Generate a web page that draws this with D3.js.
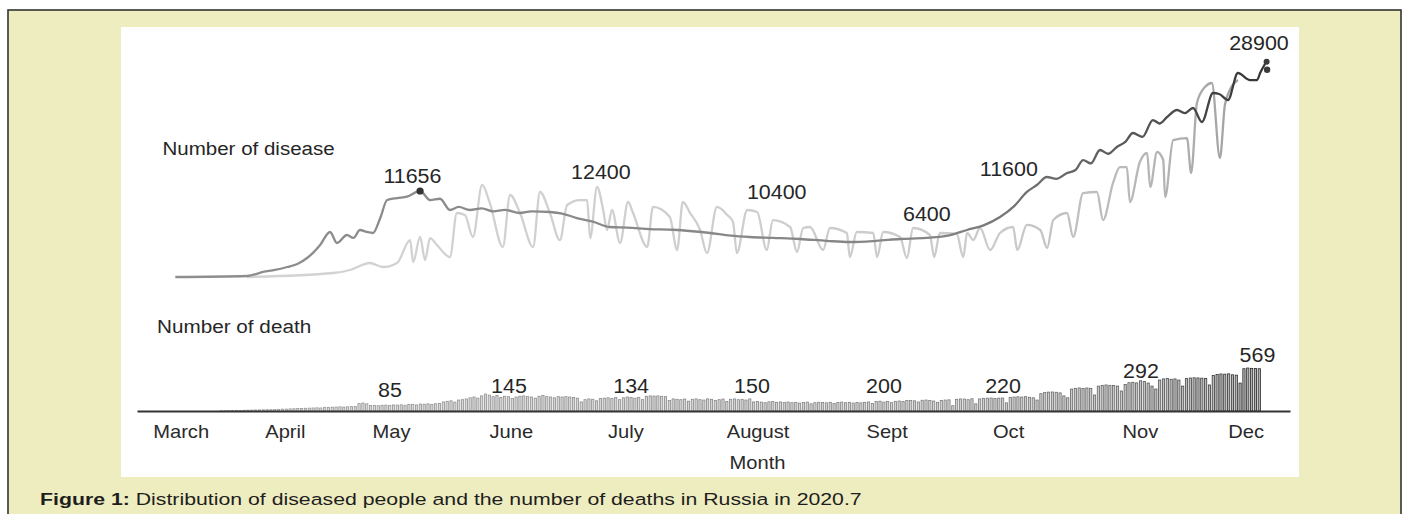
<!DOCTYPE html>
<html>
<head>
<meta charset="utf-8">
<script src="https://cdn.jsdelivr.net/npm/d3@7"></script>
<style>
  html, body { margin: 0; padding: 0; background: #ffffff; }
  svg { display: block; font-family: "Liberation Sans", Arial, Helvetica, sans-serif; }
</style>
</head>
<body>
<div id="chart"></div>
<script>
// ---------------- DATA ----------------
// day index 0 = 1 March 2020
const monthLabels = ["March", "April", "May", "June", "July", "August", "Sept", "Oct", "Nov", "Dec"];
const monthTickDays = [1.4, 28.6, 56.3, 87.6, 117.5, 152, 185.7, 217.4, 251.8, 279.4];

// dark line: "Number of disease"
const caseDays = [0, 18.8, 22.9, 26, 29.2, 32, 34.4, 36, 37.8, 40.4, 42.2, 44.8, 46.5, 48.2, 50, 51.6, 53.5, 55.3, 57.9, 60.5, 63.9, 66.5, 69.1, 71.7, 74, 76.9, 80, 83, 86, 89.9, 93, 97.8, 101, 104.8, 109, 113.4, 118, 123.9, 130, 135, 139.6, 145, 150, 156, 163.1, 170, 176.1, 183, 189.2, 196, 202.3, 206.7, 211, 215.3, 219, 222.3, 225, 227.5, 230, 232.8, 235, 237, 239, 241.4, 243.5, 245.8, 248, 250, 252.5, 255.2, 257, 258.9, 261.5, 263.5, 265.7, 268, 270.9, 272.5, 274.8, 277.4, 280.6, 282.4, 283.2, 284.5];
const caseValues = [0, 135, 680, 950, 1355, 1800, 2575, 3300, 4340, 6100, 4610, 5690, 5300, 6370, 6100, 5960, 8000, 10430, 10700, 10900, 11656, 10430, 10600, 9080, 9500, 9080, 9300, 8900, 9100, 8670, 8900, 8810, 8600, 7990, 7500, 6775, 6700, 6500, 6400, 6200, 5960, 5600, 5420, 5300, 5150, 4900, 4740, 4900, 5150, 5300, 5690, 6370, 7000, 8130, 9600, 11520, 12500, 13550, 13300, 14090, 14500, 15850, 15400, 17210, 16700, 17620, 18300, 19510, 19000, 21270, 20800, 21680, 22630, 22200, 22900, 21000, 24930, 24800, 23980, 27640, 26690, 26690, 27640, 28900];

// light line (weekly oscillating series)
const lightDays = [18.7, 41.2, 45.6, 50.8, 54.2, 57.9, 61.3, 62.1, 63.9, 65.2, 66.5, 68.3, 71.7, 73.5, 75.6, 77.7, 80.1, 82.1, 85.5, 87.4, 90, 93.4, 95.2, 97.8, 100.4, 102.3, 105.6, 107.5, 108.3, 110.1, 111.7, 112.7, 114, 116.1, 118.2, 119.5, 123.2, 124.7, 129.1, 131, 132.5, 134.4, 137, 138.8, 141.4, 144.1, 145.6, 146.6, 149.3, 151.9, 154.4, 156, 160.5, 162.3, 163.9, 165.7, 169.1, 170.9, 175.3, 176.1, 177.9, 182.2, 183.2, 184.8, 189.2, 191, 192.6, 197, 198.1, 199.6, 204, 205.7, 206.7, 208.3, 210.1, 212.7, 215.3, 218.7, 219.8, 222.3, 225.8, 227.6, 229.2, 232.8, 234.4, 237, 240.6, 242.2, 244.8, 246.6, 248.4, 249.2, 251.8, 253.7, 254.5, 256.3, 257.9, 258.4, 260.5, 264.1, 265.2, 266.7, 268.8, 270.6, 272.7, 274, 275.3, 277.4];
const lightValues = [0, 540, 950, 1900, 1355, 1900, 5010, 2030, 5420, 2300, 5280, 4340, 2710, 8670, 8400, 5420, 12470, 10030, 4070, 11110, 8670, 4070, 11520, 8670, 5010, 9760, 10430, 10430, 5285, 12195, 9080, 6370, 9080, 4610, 10160, 8670, 4070, 9490, 8130, 3660, 10160, 8670, 6370, 3250, 9490, 8400, 7450, 3250, 9080, 8810, 3660, 7720, 6775, 3390, 6640, 6775, 3660, 6640, 5960, 2710, 6100, 5960, 2710, 6100, 5420, 2575, 6640, 5690, 2710, 5960, 5830, 2710, 5960, 5010, 6640, 3660, 5960, 6775, 3660, 7050, 6370, 3930, 7720, 8670, 5420, 11380, 11520, 7720, 12740, 14900, 14900, 10160, 15580, 16800, 12200, 16940, 15850, 10840, 18560, 18830, 14090, 23580, 25750, 26290, 16120, 23300, 25340, 26690];

// daily deaths, first bar = day 12
const deathStartDay = 12;
const deathValues = [
  3,4,5,6,8,8,10, 12,12,14,15,16,17,18, 20,22,25,25,28,30,32, 34,36,38,40,42,40,45, 48,50,52,55,52,55,58,
  60,98,106,95,
  72,75,70,76,78,74,80,78,82,76,
  85,88,80,92,90,95,88,96,100,
  120,128,135,118,145,150,160,
  175,185,170,200,225,210,190,205,
  180,195,190,165,185,195,200,190,185,170,195,205,190,185,175,190,
  185,190,185,180,170,
  120,150,160,155,135,165,
  170,175,165,180,150,175,185,180,170,178,
  150,195,200,198,200,195,190,
  140,160,155,150,158,130,155,160,150,
  145,160,155,140,150,158,125,155,160,150,155,145,160,
  120,125,118,110,122,125,115,120,112,118,
  110,115,105,112,118,95,110,115,112,108,115,100,112,118,110,115,105,112,108,
  115,120,100,125,130,118,125,110,128,132,
  125,138,140,135,120,142,145,140,132,115,140,145,148,
  70,
  155,160,158,150,162,
  95,
  160,168,170,172,165,170,
  172,108,
  180,185,188,185,190,182,175,
  145,
  230,245,250,252,248,240,
  200,175,
  290,300,305,298,305,300,
  212,
  330,340,345,340,338,330,
  265,
  350,375,380,372,400,390,370,
  330,291,
  410,425,430,420,425,410,
  330,
  430,437,440,438,435,430,
  345,
  470,485,490,488,492,480,475,
  370,
  560,569,565,562,560
];

// annotations (text, anchor day, anchor value)
const caseLabelTexts = ["11656", "12400", "10400", "6400", "11600", "28900"];
const caseLabelDays = [61.9, 111.1, 157, 196.2, 217.6, 282.9];
const caseLabelValues = [12700, 13280, 10530, 7590, 13690, 30760];
const peakDotDay = 63.9, peakDotValue = 11656;

const deathLabelTexts = ["85", "145", "134", "150", "200", "220", "292", "569"];
const deathLabelDays = [56.05, 87.1, 119, 150.55, 185, 216.1, 252.1, 282.5];
const deathLabelValues = [189, 234, 242, 242, 242, 234, 433, 653];

// ---------------- DRAWING ----------------
const W = 1403, H = 514;
const svg = d3.select("#chart").append("svg").attr("width", W).attr("height", H);

// outer framed beige panel
svg.append("rect").attr("x", 8).attr("y", 10).attr("width", 1393).attr("height", 540)
  .attr("fill", "#eeedc0").attr("stroke", "#333").attr("stroke-width", 1.6);
// white figure area
svg.append("rect").attr("x", 121).attr("y", 27).attr("width", 1178).attr("height", 450).attr("fill", "#ffffff");

const x = d3.scaleLinear().domain([-10, 291]).range([137, 1290]);
const yCase = d3.scaleLinear().domain([0, 30000]).range([277, 55.6]);
const yDeath = d3.scaleLinear().domain([0, 600]).range([411, 365.7]);

const defs = svg.append("defs");
function grad(id, stops) {
  const g = defs.append("linearGradient").attr("id", id).attr("gradientUnits", "userSpaceOnUse")
    .attr("x1", x(0)).attr("x2", x(286)).attr("y1", 0).attr("y2", 0);
  stops.forEach(s => g.append("stop").attr("offset", s[0]).attr("stop-color", s[1]));
}
grad("gDark", [[0, "#8e8e8e"], [0.7, "#858585"], [0.85, "#5e5e5e"], [1, "#333"]]);
grad("gLight", [[0, "#d4d4d4"], [0.75, "#cbcbcb"], [0.9, "#b4b4b4"], [1, "#999"]]);

function txt(g, s, tx, ty, size, anchor, sx, opts = {}) {
  return g.append("text")
    .attr("transform", `translate(${tx},${ty}) scale(${sx},1)`)
    .attr("text-anchor", anchor)
    .attr("fill", opts.fill || "#262626")
    .style("font-size", size + "px")
    .style("font-weight", opts.weight || "normal")
    .text(s);
}

const chart = svg.append("g");

const lightData = lightDays.map((d, i) => [d, lightValues[i]]);
const caseData = caseDays.map((d, i) => [d, caseValues[i]]);
const line = d3.line().x(d => x(d[0])).y(d => yCase(d[1])).curve(d3.curveMonotoneX);

chart.append("path").datum(lightData).attr("d", line)
  .attr("fill", "none").attr("stroke", "url(#gLight)").attr("stroke-width", 2.3).attr("stroke-linejoin", "round");
chart.append("path").datum(caseData).attr("d", line)
  .attr("fill", "none").attr("stroke", "url(#gDark)").attr("stroke-width", 2.3).attr("stroke-linejoin", "round");

// peak dot
chart.append("circle").attr("cx", x(peakDotDay)).attr("cy", yCase(peakDotValue)).attr("r", 3.6).attr("fill", "#333");
// end marker (small flag)
const last = caseData[caseData.length - 1];
chart.append("circle").attr("cx", x(last[0]) + 1.5).attr("cy", yCase(last[1]) - 2).attr("r", 3).attr("fill", "#3a3a3a");
chart.append("circle").attr("cx", x(last[0]) + 2).attr("cy", yCase(last[1]) + 6).attr("r", 3.2).attr("fill", "#3a3a3a");

// death bars: thin outlined bars giving a striped look
const barColor = d3.scaleLinear().domain([12, 200, 250, 283]).range(["#9a9a9a", "#7e7e7e", "#5e5e5e", "#222"]);
const bw = (x(1) - x(0));
chart.append("g").selectAll("rect").data(deathValues).join("rect")
  .attr("x", (v, i) => x(deathStartDay + i) - bw / 2 + 0.7)
  .attr("width", bw - 1.6)
  .attr("y", v => yDeath(v))
  .attr("height", v => yDeath(0) - yDeath(v))
  .attr("fill", (v, i) => barColor(deathStartDay + i))
  .attr("fill-opacity", 0.35)
  .attr("stroke", (v, i) => barColor(deathStartDay + i))
  .attr("stroke-width", 0.8);

// axis
const axis = d3.axisBottom(x).tickValues(monthTickDays).tickSize(0)
  .tickFormat((d, i) => monthLabels[i]);
const ax = svg.append("g").attr("transform", `translate(0,${yDeath(0)})`).call(axis);
ax.select(".domain").attr("stroke", "#333").attr("stroke-width", 1.8);
ax.selectAll("text")
  .attr("y", 0).attr("dy", 0)
  .attr("transform", "translate(0,27) scale(1.15,1)")
  .attr("fill", "#2a2a2a")
  .style("font-size", "17.5px")
  .style("font-family", "'Liberation Sans', Arial, sans-serif");
txt(svg, "Month", x(152), 469, 17.5, "middle", 1.15, { fill: "#2a2a2a" });

// titles
txt(svg, "Number of disease", 162.5, 155, 19, "start", 1.08);
txt(svg, "Number of death", 157, 333, 19, "start", 1.09);

// annotations
caseLabelTexts.forEach((s, i) => txt(svg, s, x(caseLabelDays[i]), yCase(caseLabelValues[i]), 19.5, "middle", 1.1));
deathLabelTexts.forEach((s, i) => txt(svg, s, x(deathLabelDays[i]), yDeath(deathLabelValues[i]), 19.5, "middle", 1.1));

// caption
const cap = svg.append("text").attr("x", 0).attr("y", 0).attr("fill", "#1e1e1e").style("font-size", "17px");
cap.append("tspan").style("font-weight", "bold").text("Figure 1:");
cap.append("tspan").text(" Distribution of diseased people and the number of deaths in Russia in 2020.7");
const capLen = cap.node().getComputedTextLength();
cap.attr("transform", `translate(40,505) scale(${822 / capLen},1)`);
</script>
</body>
</html>
